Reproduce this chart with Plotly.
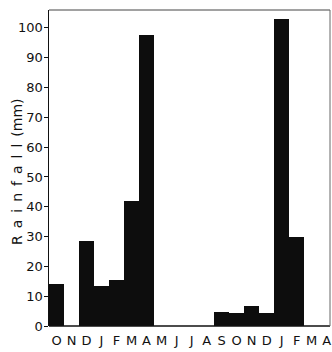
import plotly.graph_objects as go

months = ["O", "N", "D", "J", "F", "M", "A", "M", "J", "J", "A", "S", "O", "N", "D", "J", "F", "M", "A"]
rainfall_mm = [14, 0, 28.5, 13.5, 15.5, 42, 97.5, 0, 0, 0, 0, 4.8, 4.4, 6.7, 4.2, 103, 30, 0, 0]
y_ticks = [0, 10, 20, 30, 40, 50, 60, 70, 80, 90, 100]

x_pos = list(range(len(months)))
font_family = "DejaVu Sans, Lato, sans-serif"
sp = "\u2002"
y_title = sp.join("Rainfall") + sp + "(mm)"

fig = go.Figure(
    go.Bar(
        x=x_pos,
        y=rainfall_mm,
        marker=dict(color="#0d0d0d", line=dict(width=0)),
        width=1.0,
        hoverinfo="skip",
    )
)

fig.update_layout(
    width=332,
    height=352,
    margin=dict(l=49, r=2, t=10, b=26),
    paper_bgcolor="white",
    plot_bgcolor="white",
    bargap=0,
    showlegend=False,
    font=dict(family=font_family, color="#111111"),
    xaxis=dict(
        range=[-0.5, 18.22],
        automargin=False,
        tickmode="array",
        tickvals=x_pos,
        ticktext=months,
        showgrid=False,
        zeroline=False,
        showline=False,
        ticks="",
        tickfont=dict(size=13, color="#111111"),
        ticklabelstandoff=5,
        ticklabeloverflow="allow",
    ),
    yaxis=dict(
        range=[0, 106],
        automargin=False,
        tickmode="array",
        tickvals=y_ticks,
        ticktext=[str(v) for v in y_ticks],
        showgrid=False,
        zeroline=False,
        showline=True,
        linecolor="#111111",
        linewidth=1.5,
        ticks="outside",
        ticklen=4,
        tickwidth=1,
        tickcolor="#111111",
        tickfont=dict(size=13, color="#111111"),
        ticklabelstandoff=-2,
    ),
    annotations=[
        dict(
            text=y_title,
            xref="paper", yref="paper",
            x=0, y=0.5,
            xshift=-32, yshift=-4,
            xanchor="center", yanchor="middle",
            textangle=-90,
            showarrow=False,
            font=dict(size=14, color="#111111", family=font_family),
        )
    ],
    shapes=[
        dict(type="line", xref="paper", yref="paper", x0=0, x1=1, y0=0, y1=0,
             line=dict(color="#111111", width=1.5)),
        dict(type="line", xref="paper", yref="paper", x0=0, x1=1, y0=1, y1=1,
             line=dict(color="#444444", width=1)),
        dict(type="line", xref="paper", yref="paper", x0=1, x1=1, y0=0, y1=1,
             line=dict(color="#666666", width=1)),
    ],
)

fig.write_html(
    "out.html",
    config={"displayModeBar": False, "staticPlot": True},
    post_script="document.body.style.margin='0';",
)
